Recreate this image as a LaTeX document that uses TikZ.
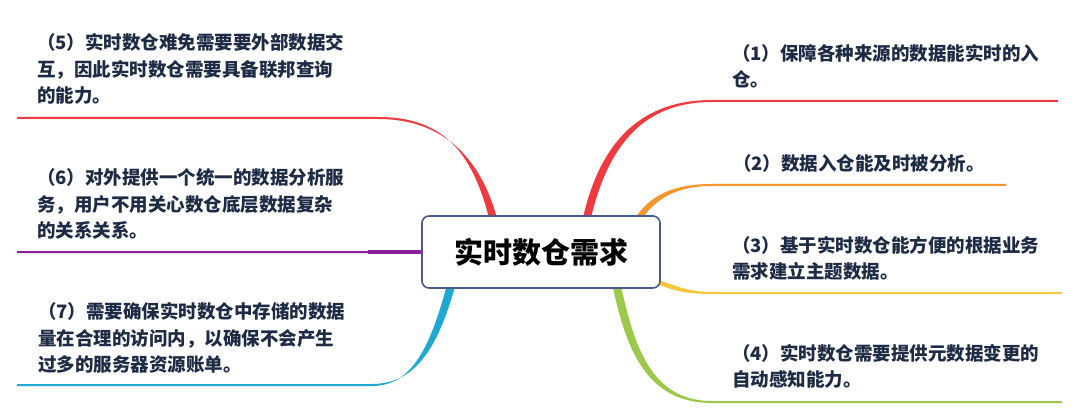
\documentclass[tikz,border=0pt]{standalone}
\usepackage{fontspec}
\newfontfamily\cjk{Noto Sans CJK SC}
\definecolor{txt}{HTML}{1E2B45}
\definecolor{hubdraw}{HTML}{4A5B8B}
\definecolor{bred}{HTML}{EF3B3F}
\definecolor{borange}{HTML}{F7962E}
\definecolor{byellow}{HTML}{FAC640}
\definecolor{bgreen}{HTML}{9DC94A}
\definecolor{bpurple}{HTML}{8B1E9B}
\definecolor{bblue}{HTML}{1FA9D2}
\tikzset{
  hubbox/.style={draw=hubdraw, line width=1.6pt, rounded corners=7pt, fill=white,
    minimum width=238pt, minimum height=72pt, inner sep=0pt,
    font=\cjk\bfseries\fontsize{29}{34}\selectfont, text=black},
  leaf/.style={anchor=west, align=left, inner sep=0pt, text=txt,
    font=\cjk\bfseries\fontsize{18.5}{26.5}\selectfont},
}
\begin{document}
\begin{tikzpicture}[x=1pt,y=-1pt]
\useasboundingbox[fill=white] (0,0) rectangle (1080,417);

% branches (tapered)
\fill[bred] (582,222) .. controls (600,138) and (644,100) .. (712,100) -- (1058,100)
  -- (1058,102) -- (712,102) .. controls (646,102) and (608,142) .. (590,222) -- cycle;
\fill[borange] (633.5,220.5) .. controls (650,194) and (675,184) .. (712,184) -- (1006,184)
  -- (1006,186) -- (712,186) .. controls (677,186) and (655,198) .. (638.5,223.5) -- cycle;
\fill[byellow] (655,278.5) .. controls (681,288) and (690,292) .. (715,292) -- (1062,292)
  -- (1062,294) -- (715,294) .. controls (689,294) and (679,292.5) .. (655,283.5) -- cycle;
\fill[bgreen] (612,282.8) .. controls (626,352) and (648,403) .. (712,403) -- (1062,403)
  -- (1062,401) -- (712,401) .. controls (652,401) and (634,348) .. (620,281.2) -- cycle;
\fill[bred] (490,222) .. controls (472,148) and (440,117) .. (378,117) -- (17,117)
  -- (17,119) -- (378,119) .. controls (438,119) and (480,152) .. (498,222) -- cycle;
\fill[bpurple] (17,251) -- (368,251) -- (368,250.2) -- (428,250.2) -- (428,253.8)
  -- (368,253.8) -- (368,253) -- (17,253) -- cycle;
\fill[bblue] (448,281) .. controls (431,345) and (413,386) .. (372,386) -- (17,386)
  -- (17,384) -- (372,384) .. controls (417,384) and (439,345) .. (456,283) -- cycle;

% central node
\node[hubbox] (hub) at (541,252) {实时数仓需求};

% leaves
\node[leaf] (n1) at (732,66) {（1）保障各种来源的数据能实时的入\\仓。};
\node[leaf] (n2) at (733,163) {（2）数据入仓能及时被分析。};
\node[leaf] (n3) at (732,258.5) {（3）基于实时数仓能方便的根据业务\\需求建立主题数据。};
\node[leaf] (n4) at (732,366.5) {（4）实时数仓需要提供元数据变更的\\自动感知能力。};
\node[leaf] (n5) at (37,69) {（5）实时数仓难免需要要外部数据交\\互，因此实时数仓需要具备联邦查询\\的能力。};
\node[leaf] (n6) at (37,204) {（6）对外提供一个统一的数据分析服\\务，用户不用关心数仓底层数据复杂\\的关系关系。};
\node[leaf] (n7) at (38,338) {（7）需要确保实时数仓中存储的数据\\量在合理的访问内，以确保不会产生\\过多的服务器资源账单。};
\end{tikzpicture}
\end{document}
